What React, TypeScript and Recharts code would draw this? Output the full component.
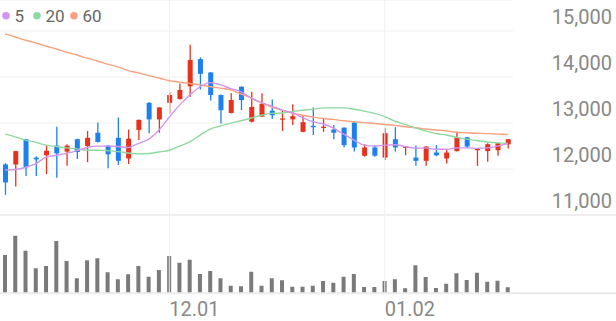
import React from "react";
import {
  Bar,
  BarChart,
  CartesianGrid,
  ComposedChart,
  Line,
  ReferenceLine,
  XAxis,
  YAxis,
} from "recharts";

const dates = [
  "11.09", "11.10", "11.11", "11.14", "11.15", "11.16", "11.17", "11.18", "11.21", "11.22",
  "11.23", "11.24", "11.25", "11.28", "11.29", "11.30", "12.01", "12.02", "12.05", "12.06",
  "12.07", "12.08", "12.09", "12.12", "12.13", "12.14", "12.15", "12.16", "12.19", "12.20",
  "12.21", "12.22", "12.23", "12.26", "12.27", "12.28", "12.29", "01.02", "01.03", "01.04",
  "01.05", "01.06", "01.09", "01.10", "01.11", "01.12", "01.13", "01.16", "01.17", "01.18",
];

const open = [
  12100, 12100, 12650, 12250, 12300, 12510, 12380, 12650, 12500, 12790,
  12510, 12680, 12230, 12850, 13440, 13080, 13440, 13520, 13800, 14390,
  14100, 13610, 13220, 13790, 13030, 13140, 13270, 13080, 13080, 12810,
  12940, 12900, 12860, 12900, 13010, 12290, 12470, 12250, 12650, 12460,
  12250, 12180, 12360, 12230, 12390, 12690, 12410, 12390, 12410, 12540,
];
const high = [
  12130, 12400, 12660, 12280, 12520, 12920, 12540, 12660, 12830, 13010,
  12520, 13120, 12860, 13080, 13450, 13340, 13680, 13860, 14700, 14430,
  14110, 13620, 13650, 13800, 13680, 13650, 13510, 13280, 13410, 13170,
  13340, 13100, 12960, 12910, 13020, 12540, 12520, 12890, 12910, 12500,
  12510, 12490, 12520, 12430, 12810, 12700, 12440, 12560, 12570, 12650,
];
const low = [
  11440, 11620, 11850, 11850, 11890, 11810, 12070, 12220, 12150, 12580,
  12020, 12090, 12110, 12630, 12780, 12790, 13210, 13510, 13570, 13730,
  13490, 12990, 13210, 13280, 13010, 13130, 13090, 12830, 12960, 12800,
  12740, 12810, 12650, 12470, 12380, 12270, 12270, 12200, 12380, 12300,
  12070, 12070, 12280, 12120, 12380, 12460, 12070, 12160, 12290, 12450,
];
const close = [
  11710, 12390, 12040, 12210, 12400, 12340, 12510, 12370, 12680, 12590,
  12320, 12180, 12660, 13070, 13080, 13340, 13610, 13720, 14370, 14070,
  13610, 13280, 13500, 13500, 13350, 13420, 13170, 13100, 13150, 13020,
  12910, 12920, 12790, 12520, 12470, 12470, 12290, 12780, 12470, 12490,
  12180, 12490, 12300, 12360, 12690, 12490, 12440, 12540, 12560, 12650,
];
const volume = [
  383000, 576000, 426000, 250000, 273000, 523000, 323000, 150000, 330000, 350000,
  210000, 140000, 190000, 273000, 166000, 233000, 373000, 306000, 336000, 193000,
  223000, 150000, 76000, 70000, 216000, 76000, 150000, 130000, 66000, 66000,
  76000, 123000, 106000, 166000, 193000, 63000, 63000, 123000, 140000, 50000,
  280000, 163000, 53000, 96000, 200000, 133000, 206000, 116000, 126000, 60000,
];
const ma5 = [
  11980, 11990, 12040, 12120, 12260, 12300, 12340, 12400, 12470, 12500,
  12500, 12490, 12470, 12560, 12650, 12850, 13130, 13390, 13610, 13790,
  13880, 13830, 13750, 13680, 13540, 13440, 13370, 13280, 13220, 13120,
  13030, 12980, 12890, 12760, 12630, 12520, 12500, 12520, 12530, 12490,
  12450, 12460, 12430, 12430, 12460, 12460, 12450, 12460, 12500, 12560,
];
const ma20 = [
  12760, 12700, 12630, 12580, 12520, 12490, 12460, 12440, 12410, 12410,
  12400, 12380, 12350, 12330, 12340, 12370, 12410, 12500, 12590, 12740,
  12870, 12940, 13000, 13050, 13110, 13170, 13210, 13220, 13250, 13280,
  13300, 13330, 13330, 13330, 13300, 13260, 13210, 13140, 13040, 12970,
  12890, 12830, 12770, 12740, 12690, 12650, 12620, 12590, 12570, 12560,
];
const ma60 = [
  14940, 14870, 14800, 14740, 14670, 14610, 14540, 14480, 14410, 14350,
  14280, 14220, 14140, 14090, 14030, 13980, 13920, 13890, 13860, 13830,
  13790, 13760, 13720, 13630, 13540, 13440, 13350, 13280, 13220, 13170,
  13130, 13100, 13080, 13050, 13030, 13010, 12990, 12970, 12950, 12920,
  12900, 12870, 12850, 12830, 12800, 12790, 12780, 12770, 12760, 12750,
];

const priceTicks = [11000, 12000, 13000, 14000, 15000];
const dateTicks = ["12.01", "01.02"];
const maNames = ["5", "20", "60"];

const UP = "#e6311c";
const DOWN = "#1c80ef";
const MA_COLORS = ["#d293ef", "#8fd8a0", "#f8a17c"];
const FONT = "Roboto, sans-serif";

const rows = dates.map((date, i) => ({
  date,
  open: open[i],
  high: high[i],
  low: low[i],
  close: close[i],
  volume: volume[i],
  ma5: ma5[i],
  ma20: ma20[i],
  ma60: ma60[i],
}));

const W = 616;
const H = 321;

function Candle(props: any) {
  const { x, y, width, height, payload } = props;
  const top = Math.min(y, y + height);
  const h = Math.abs(height);
  const k = payload.high === payload.low ? 0 : h / (payload.high - payload.low);
  const up = payload.close >= payload.open;
  const color = up ? UP : DOWN;
  const bodyTop = top + (payload.high - Math.max(payload.open, payload.close)) * k;
  const bodyH = Math.max(1.2, Math.abs(payload.open - payload.close) * k);
  const cx = x + width / 2;
  return (
    <g>
      <line x1={cx} x2={cx} y1={top} y2={top + h} stroke={color} strokeWidth={1.3} />
      <rect x={x} y={bodyTop} width={width} height={bodyH} fill={color} />
    </g>
  );
}

function PriceTick(props: any) {
  const { x, y, payload } = props;
  return (
    <text x={x + 99} y={y - 7} textAnchor="end" fontFamily={FONT} fontSize={20} fill="#888">
      {payload.value.toLocaleString("en-US")}
    </text>
  );
}

function DateTick(props: any) {
  const { x, y, payload } = props;
  return (
    <text x={x} y={y + 23} textAnchor="start" fontFamily={FONT} fontSize={20} fill="#888">
      {payload.value}
    </text>
  );
}

const fullWidthLine = (color: string) => (p: any) => (
  <line x1={0} x2={W} y1={p.y1} y2={p.y1} stroke={color} strokeWidth={2} />
);

export default function App() {
  return (
    <div style={{ position: "absolute", left: 0, top: 0, width: W, height: H, background: "#fff" }}>
      <div style={{ position: "absolute", left: 0, top: 0 }}>
        <BarChart width={W} height={H} data={rows} margin={{ top: 233.3, right: 103, bottom: 0, left: 0 }}>
          <XAxis
            dataKey="date"
            ticks={dateTicks}
            interval={0}
            axisLine={false}
            tickLine={false}
            tickSize={0}
            tickMargin={0}
            height={27.7}
            tick={<DateTick />}
          />
          <YAxis hide domain={[0, 600000]} allowDataOverflow />
          <ReferenceLine y={0} shape={fullWidthLine("#e8e8e8")} />
          <Bar dataKey="volume" barSize={4} fill="#7a7a7a" isAnimationActive={false} />
        </BarChart>
      </div>
      <div style={{ position: "absolute", left: 0, top: 0 }}>
        <ComposedChart width={W} height={H} data={rows} margin={{ top: 0, right: 0, bottom: 0, left: 0 }}>
          <CartesianGrid yAxisId="price" vertical={false} stroke="#efefef" />
          <XAxis
            dataKey="date"
            ticks={dateTicks}
            interval={0}
            axisLine={false}
            tickLine={false}
            tick={false}
            height={27.7}
          />
          <YAxis
            yAxisId="price"
            orientation="right"
            width={103}
            domain={[9300, 15675]}
            allowDataOverflow
            ticks={priceTicks}
            axisLine={false}
            tickLine={false}
            tickSize={0}
            tickMargin={0}
            tick={<PriceTick />}
          />
          {dateTicks.map((d) => (
            <ReferenceLine key={d} yAxisId="price" x={d} stroke="#efefef" strokeWidth={1} />
          ))}
          <ReferenceLine yAxisId="price" y={11000} shape={fullWidthLine("#efefef")} />
          <Line yAxisId="price" type="monotone" dataKey="ma60" stroke={MA_COLORS[2]} strokeWidth={1.4} dot={false} isAnimationActive={false} />
          <Line yAxisId="price" type="monotone" dataKey="ma20" stroke={MA_COLORS[1]} strokeWidth={1.4} dot={false} isAnimationActive={false} />
          <Line yAxisId="price" type="monotone" dataKey="ma5" stroke={MA_COLORS[0]} strokeWidth={1.4} dot={false} isAnimationActive={false} />
          <Bar
            yAxisId="price"
            dataKey={(d: any) => [d.low, d.high]}
            barSize={5}
            shape={<Candle />}
            isAnimationActive={false}
          />
        </ComposedChart>
      </div>
      <svg style={{ position: "absolute", left: 0, top: 0 }} width={120} height={30}>
        {maNames.map((name, i) => {
          const cx = [6, 37, 74][i];
          return (
            <g key={name}>
              <circle cx={cx} cy={15.7} r={3.8} fill={MA_COLORS[i]} />
              <text x={cx + 8.5} y={21.7} fontFamily={FONT} fontSize={17} fill="#666">
                {name}
              </text>
            </g>
          );
        })}
      </svg>
    </div>
  );
}
